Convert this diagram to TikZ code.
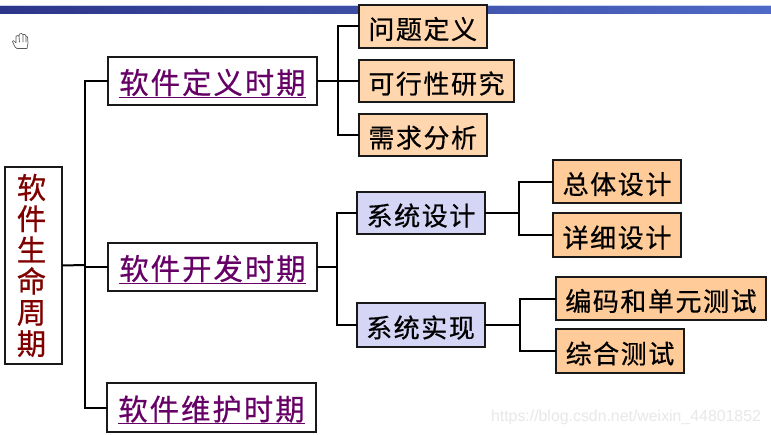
\documentclass[tikz,border=0pt]{standalone}
\usepackage{fontspec}
\setmainfont{Liberation Sans}
\newfontfamily\cjkbig[LetterSpace=7,FakeBold=0.6]{Noto Sans CJK SC}
\newfontfamily\cjksmall[LetterSpace=6,FakeBold=0.6]{Noto Sans CJK SC}
\newfontfamily\cjkroot[FakeBold=0.6]{Noto Sans CJK SC}
\newcommand{\ulx}[1]{\setbox0=\hbox{#1}\copy0\kern-\wd0\rule[-3pt]{\wd0}{0.8pt}}
\definecolor{phase}{HTML}{660066}
\definecolor{rootred}{HTML}{800000}
\definecolor{peachA}{HTML}{FFD6AE}
\definecolor{peachB}{HTML}{FFCC99}
\definecolor{lav}{HTML}{D5D5F5}
\definecolor{barA}{HTML}{1A1A6E}
\definecolor{barB}{HTML}{3E50A6}
\definecolor{barC}{HTML}{5F82E8}
\definecolor{barEdge}{HTML}{C8D2F2}
\pgfdeclarehorizontalshading{barshade}{100bp}{color(0bp)=(barA); color(50bp)=(barB); color(100bp)=(barC)}
\tikzset{
  x=0.75pt,y=-0.75pt,
  dims/.style 2 args={minimum width=#1*0.75pt,minimum height=#2*0.75pt},
  basebox/.style={draw=black!90,line width=1.5pt,inner sep=0pt,outer sep=0pt,anchor=center},
  phasebox/.style={basebox,fill=white,text=phase,text height=22.4pt,text depth=3.4pt,font=\cjkbig\fontsize{22}{24}\selectfont},
  rootbox/.style={basebox,fill=white,text=rootred,align=center,font=\cjkroot\fontsize{22}{23.4}\selectfont},
  smallbox/.style={basebox,text=black,text height=22.4pt,text depth=3.7pt,font=\cjksmall\fontsize{19.5}{22}\selectfont},
  taskbox/.style={smallbox,fill=peachA},
  designbox/.style={smallbox,fill=peachB},
  groupbox/.style={smallbox,fill=lav},
  link/.style={draw=black,line width=1.5pt,line join=miter},
  hand/.style={draw=black!65,line width=0.5pt,fill=white,line join=round,line cap=round},
  mark text/.style={text=black!9,inner sep=0pt,font=\fontsize{11.9}{14}\selectfont}
}
\begin{document}
\begin{tikzpicture}
\useasboundingbox[fill=white] (0,0) rectangle (771,435);
% header bar
\fill[barEdge] (0,5) rectangle (771,14.5);
\shade[shading=barshade] (0,6.5) rectangle (771,13.5);
% hand cursor
\draw[hand] (15,47) -- (12.5,41.5) -- (13.5,40.5) -- (16,43) -- (16,36.5) -- (17.5,35.5) -- (19,36) -- (19.5,34) -- (21.5,33.5) -- (23,34.5) -- (25,34.5) -- (26,36) -- (27.5,37) -- (28,43) -- (27,48.5) -- (17,48.5) -- cycle;
\draw[hand] (19,36) -- (19.5,42) (23,34.5) -- (23,42) (26,36) -- (26,42);
% boxes
\node[rootbox,dims={57}{197}] (root) at (33.5,265.5) {\hspace*{-3pt}软\\\hspace*{-3pt}件\\\hspace*{-3pt}生\\\hspace*{-3pt}命\\\hspace*{-3pt}周\\\hspace*{-3pt}期};
\node[phasebox,dims={209}{48}] (def) at (212.5,81) {\ulx{软件定义时期}};
\node[phasebox,dims={209}{48}] (dev) at (212.5,267) {\ulx{软件开发时期}};
\node[phasebox,dims={209}{49}] (maint) at (211.5,407.5) {\ulx{软件维护时期}};
\node[taskbox,dims={127.5}{43}] (q1) at (422.75,26.5) {问题定义};
\node[taskbox,dims={155}{42}] (q2) at (436.5,81) {可行性研究};
\node[taskbox,dims={127.5}{42}] (q3) at (422.75,135) {需求分析};
\node[groupbox,dims={128}{42}] (sd) at (421,213) {系统设计};
\node[groupbox,dims={128}{44}] (si) at (420.5,325) {系统实现};
\node[designbox,dims={128}{43}] (zt) at (617,181.5) {总体设计};
\node[designbox,dims={128}{44}] (xx) at (617,235) {详细设计};
\node[designbox,dims={210}{43}] (bm) at (661,298.5) {编码和单元测试};
\node[designbox,dims={128}{44}] (zh) at (620,351) {综合测试};
% junctions
\coordinate (jroot) at (85,265);
\coordinate (jdef) at (338,81);
\coordinate (jdev) at (337,267);
\coordinate (jsd) at (519,213);
\coordinate (jsi) at (520,325);
% connectors
\draw[link] (root.east) -- (jroot);
\draw[link] (def.west) -| (jroot) |- (maint.west);
\draw[link] (jroot |- dev.west) -- (dev.west);
\draw[link] (def.east) -- (q2.west);
\draw[link] (q1.west) -| (jdef) |- (q3.west);
\draw[link] (dev.east) -- (jdev);
\draw[link] (sd.west) -| (jdev) |- (si.west);
\draw[link] (sd.east) -- (jsd);
\draw[link] (zt.west) -| (jsd) |- (xx.west);
\draw[link] (si.east) -- (jsi);
\draw[link] (bm.west) -| (jsi) |- (zh.west);
% watermark
\node[mark text] (wm) at (626,417) {https://blog.csdn.net/weixin\_44801852};
\end{tikzpicture}
\end{document}
